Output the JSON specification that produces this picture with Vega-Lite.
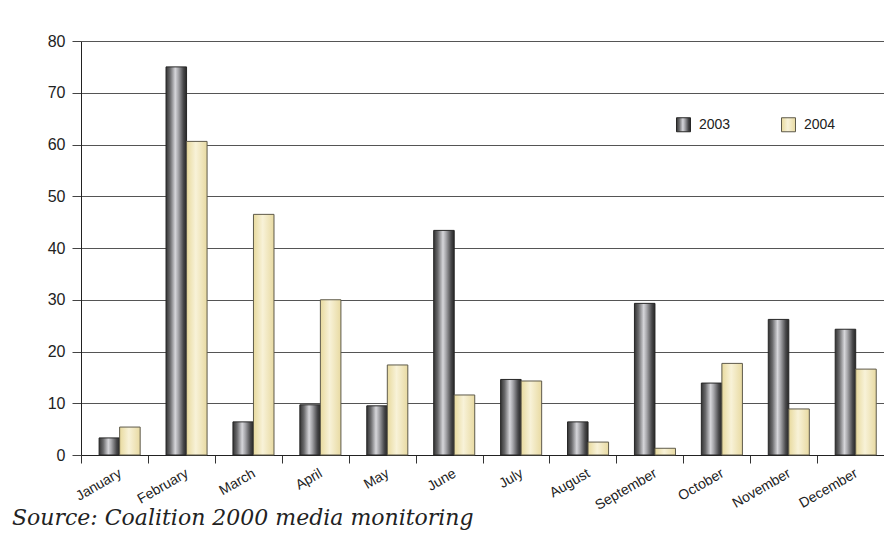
{
  "$schema": "https://vega.github.io/schema/vega-lite/v6.json",
  "width": 803,
  "height": 414,
  "autosize": {"type": "none"},
  "padding": {"left": 81, "top": 41, "right": 0, "bottom": 79},
  "background": "white",
  "data": {
    "values": [
      {"month": "January", "year": "2003", "value": 3.3},
      {"month": "January", "year": "2004", "value": 5.4},
      {"month": "February", "year": "2003", "value": 75.0},
      {"month": "February", "year": "2004", "value": 60.6},
      {"month": "March", "year": "2003", "value": 6.4},
      {"month": "March", "year": "2004", "value": 46.5},
      {"month": "April", "year": "2003", "value": 9.7},
      {"month": "April", "year": "2004", "value": 30.0},
      {"month": "May", "year": "2003", "value": 9.5},
      {"month": "May", "year": "2004", "value": 17.4},
      {"month": "June", "year": "2003", "value": 43.4},
      {"month": "June", "year": "2004", "value": 11.6},
      {"month": "July", "year": "2003", "value": 14.6},
      {"month": "July", "year": "2004", "value": 14.3},
      {"month": "August", "year": "2003", "value": 6.4},
      {"month": "August", "year": "2004", "value": 2.5},
      {"month": "September", "year": "2003", "value": 29.3},
      {"month": "September", "year": "2004", "value": 1.3},
      {"month": "October", "year": "2003", "value": 13.9},
      {"month": "October", "year": "2004", "value": 17.7},
      {"month": "November", "year": "2003", "value": 26.2},
      {"month": "November", "year": "2004", "value": 8.9},
      {"month": "December", "year": "2003", "value": 24.3},
      {"month": "December", "year": "2004", "value": 16.6}
    ]
  },
  "mark": {"type": "bar", "strokeWidth": 1},
  "encoding": {
    "x": {
      "field": "month",
      "type": "nominal",
      "sort": null,
      "scale": {"paddingInner": 0, "paddingOuter": 0},
      "axis": {
        "title": null,
        "tickBand": "extent",
        "tickSize": 8,
        "tickColor": "#333",
        "domainColor": "#222",
        "labelAngle": -30,
        "labelFont": "Liberation Sans",
        "labelFontSize": 14,
        "labelColor": "#222",
        "labelPadding": 3,
        "labelOffset": 2,
        "grid": false
      }
    },
    "xOffset": {
      "field": "year",
      "type": "nominal",
      "scale": {"domain": ["2003", "2004"], "paddingInner": 0, "paddingOuter": 0.63, "align": 0.7}
    },
    "y": {
      "field": "value",
      "type": "quantitative",
      "scale": {"domain": [0, 80], "nice": false},
      "axis": {
        "title": null,
        "values": [0, 10, 20, 30, 40, 50, 60, 70, 80],
        "grid": true,
        "gridColor": "#555",
        "gridWidth": 1,
        "tickSize": 9,
        "tickColor": "#444",
        "domainColor": "#222",
        "labelFont": "Liberation Sans",
        "labelFontSize": 16,
        "labelColor": "#222",
        "labelPadding": 7
      }
    },
    "fill": {
      "field": "year",
      "type": "nominal",
      "scale": {
        "domain": ["2003", "2004"],
        "range": [
          {"expr": "{gradient:'linear',x1:0,y1:0,x2:1,y2:0,stops:[{offset:0,color:'#333333'},{offset:0.2,color:'#6a6a6c'},{offset:0.45,color:'#d6d6da'},{offset:0.6,color:'#a6a6aa'},{offset:0.85,color:'#48484a'},{offset:1,color:'#262626'}]}"},
          {"expr": "{gradient:'linear',x1:0,y1:0,x2:1,y2:0,stops:[{offset:0,color:'#e8da9e'},{offset:0.45,color:'#f8f2d8'},{offset:1,color:'#e8daa2'}]}"}
        ]
      },
      "legend": {
        "title": null,
        "orient": "none",
        "legendX": 595,
        "legendY": 76,
        "direction": "horizontal",
        "columnPadding": 48,
        "symbolType": "square",
        "symbolSize": 196,
        "symbolStrokeColor": "#333",
        "symbolStrokeWidth": 1,
        "labelFont": "Liberation Sans",
        "labelFontSize": 14,
        "labelColor": "#222",
        "labelOffset": 8,
        "padding": 0
      }
    },
    "stroke": {
      "field": "year",
      "type": "nominal",
      "scale": {"domain": ["2003", "2004"], "range": ["#262626", "#5e5a4a"]},
      "legend": null
    }
  },
  "title": {
    "text": "Source: Coalition 2000 media monitoring",
    "orient": "bottom",
    "anchor": "start",
    "frame": "group",
    "dx": -69,
    "offset": -4,
    "font": "DejaVu Serif",
    "fontStyle": "italic",
    "fontWeight": "normal",
    "fontSize": 22,
    "color": "#222"
  },
  "config": {"view": {"stroke": null}}
}
